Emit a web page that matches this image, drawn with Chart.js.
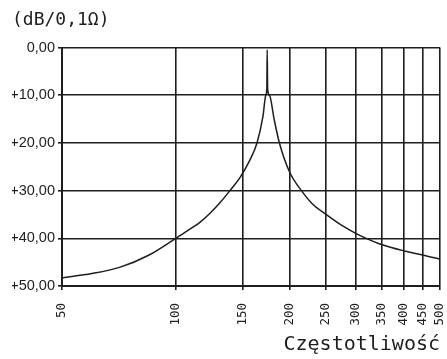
<!DOCTYPE html>
<html>
<head>
<meta charset="utf-8">
<script src="https://cdn.jsdelivr.net/npm/chart.js@4"></script>
<style>
  html, body { margin: 0; padding: 0; background: #fff; }
  #wrap { width: 447px; height: 359px; }
</style>
</head>
<body>
<div id="wrap"><canvas id="chart" width="447" height="359"></canvas></div>
<script>
// Frequency (Hz) and level (dB)
const freq = [50, 60, 71, 85, 100, 107, 116, 123, 131, 139, 148, 157, 164, 170, 173, 174.1, 174.5, 175, 177, 182, 188, 200, 215, 230, 250, 275, 300, 319, 350, 400, 450, 500];
const level = [48.3, 47.4, 46.1, 43.5, 40, 38.5, 36.6, 34.8, 32.5, 30, 27.2, 23.6, 20, 14.5, 10, 8.7, 0.5, 8.7, 10, 15, 20, 26.1, 30, 32.8, 35, 37.3, 39.0, 40, 41.3, 42.6, 43.5, 44.4];

const xTicks = [50, 100, 150, 200, 250, 300, 350, 400, 450, 500];
const yTicks = [0, 10, 20, 30, 40, 50];

const ink = '#1e1e1e';

function yLabel(v) {
    const s = v.toFixed(2).replace('.', ',');
    return v === 0 ? s : '+' + s;
}

new Chart(document.getElementById('chart'), {
    type: 'line',
    data: {
        datasets: [{
            data: freq.map((f, i) => ({ x: f, y: level[i] })),
            borderColor: ink,
            borderWidth: 1.5,
            pointRadius: 0,
            cubicInterpolationMode: 'monotone',
            fill: false
        }]
    },
    options: {
        responsive: false,
        animation: false,
        layout: { padding: { left: 12, right: 7, top: 10, bottom: 2 } },
        scales: {
            x: {
                type: 'logarithmic',
                min: 50,
                max: 500,
                afterBuildTicks: (scale) => { scale.ticks = xTicks.map(v => ({ value: v })); },
                afterFit: (scale) => {
                    scale.height = 71;
                    scale.paddingLeft = 0;
                    scale.paddingRight = 0;
                },
                grid: { color: ink, lineWidth: 1.6, tickLength: 4 },
                border: { color: ink, width: 2 },
                ticks: {
                    autoSkip: false,
                    minRotation: 90,
                    maxRotation: 90,
                    padding: 13,
                    color: ink,
                    font: { family: 'DejaVu Sans Mono', size: 12.5 },
                    callback: (v) => String(v)
                },
                title: {
                    display: true,
                    text: 'Częstotliwość',
                    align: 'end',
                    color: ink,
                    font: { family: 'DejaVu Sans Mono', size: 20 },
                    padding: { top: 0, bottom: 0 }
                }
            },
            y: {
                reverse: true,
                min: 0,
                max: 50,
                afterBuildTicks: (scale) => { scale.ticks = yTicks.map(v => ({ value: v })); },
                afterFit: (scale) => {
                    scale.width = 50;
                    scale.paddingTop = 0;
                    scale.paddingBottom = 0;
                },
                grid: { color: ink, lineWidth: 1.6, tickLength: 4 },
                border: { color: ink, width: 2 },
                ticks: {
                    padding: 3,
                    color: ink,
                    font: { family: 'Liberation Sans', size: 14.5 },
                    callback: (v) => yLabel(v)
                }
            }
        },
        plugins: {
            legend: { display: false },
            tooltip: { enabled: false },
            title: {
                display: true,
                text: '(dB/0,1Ω)',
                align: 'start',
                color: ink,
                font: { family: 'DejaVu Sans Mono', size: 18, weight: 'normal' },
                padding: { top: 0, bottom: 16 }
            }
        }
    }
});
</script>
</body>
</html>
